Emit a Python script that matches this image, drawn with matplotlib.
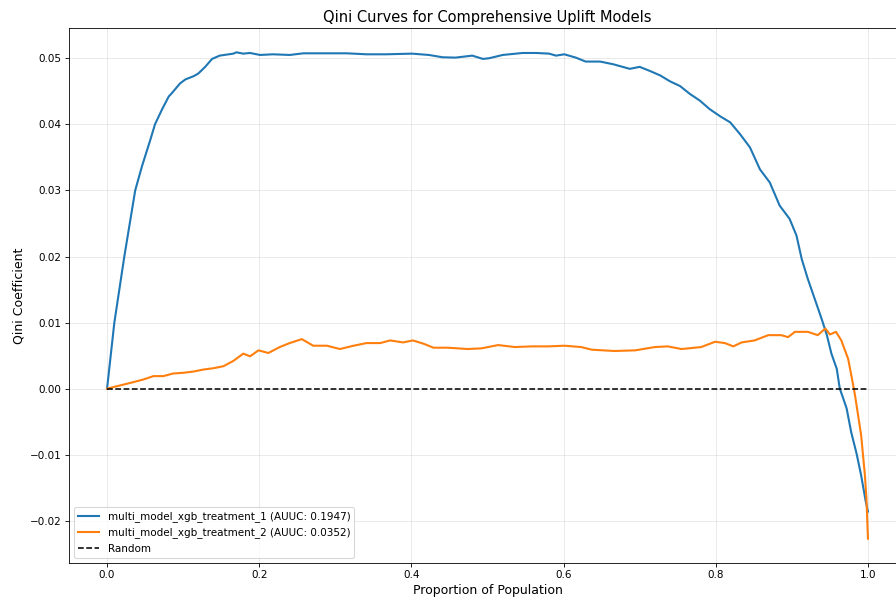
import matplotlib
matplotlib.use("Agg")
import matplotlib.pyplot as plt

# values
t1_x = [0.0, 0.0096, 0.0227, 0.037, 0.046, 0.057, 0.063, 0.072, 0.081, 0.085,
        0.096, 0.103, 0.114, 0.120, 0.129, 0.138, 0.148, 0.166, 0.170, 0.179,
        0.188, 0.201, 0.218, 0.240, 0.258, 0.284, 0.315, 0.341, 0.366, 0.401,
        0.423, 0.441, 0.458, 0.480, 0.494, 0.502, 0.520, 0.546, 0.564, 0.581,
        0.590, 0.601, 0.616, 0.629, 0.648, 0.665, 0.687, 0.700, 0.713, 0.727,
        0.740, 0.753, 0.766, 0.779, 0.792, 0.806, 0.819, 0.832, 0.845, 0.858,
        0.871, 0.884, 0.897, 0.906, 0.913, 0.921, 0.930, 0.939, 0.946, 0.952,
        0.959, 0.963, 0.967, 0.972, 0.978, 0.985, 0.991, 0.997, 1.0]
t1_y = [0.0, 0.0100, 0.0200, 0.0300, 0.0337, 0.0377, 0.0400, 0.0422, 0.0442, 0.0447,
        0.0462, 0.0468, 0.0473, 0.0477, 0.0487, 0.0499, 0.0504, 0.0507, 0.0509, 0.0507,
        0.0508, 0.0505, 0.0506, 0.0505, 0.05075, 0.05075, 0.05075, 0.0506, 0.0506, 0.0507,
        0.0505, 0.05015, 0.0501, 0.0504, 0.0499, 0.0500, 0.0505, 0.0508, 0.0508, 0.0507,
        0.0504, 0.0506, 0.0501, 0.0495, 0.0495, 0.0491, 0.0484, 0.0487, 0.0481, 0.0474,
        0.0465, 0.0458, 0.0446, 0.0436, 0.0423, 0.0412, 0.0403, 0.0385, 0.0365, 0.0332,
        0.0312, 0.0277, 0.0257, 0.0232, 0.0196, 0.0166, 0.0136, 0.0106, 0.0081, 0.0053,
        0.0030, 0.0000, -0.0013, -0.0030, -0.0066, -0.0098, -0.0131, -0.0170, -0.0186]

t2_x = [0.0, 0.0175, 0.035, 0.048, 0.061, 0.074, 0.087, 0.100, 0.114, 0.127,
        0.140, 0.153, 0.166, 0.179, 0.188, 0.199, 0.212, 0.227, 0.240, 0.256,
        0.271, 0.289, 0.306, 0.324, 0.341, 0.359, 0.372, 0.389, 0.402, 0.416,
        0.429, 0.448, 0.474, 0.492, 0.514, 0.536, 0.558, 0.580, 0.601, 0.623,
        0.637, 0.667, 0.694, 0.720, 0.737, 0.755, 0.781, 0.799, 0.812, 0.823,
        0.834, 0.851, 0.869, 0.886, 0.895, 0.904, 0.921, 0.934, 0.944, 0.950,
        0.958, 0.965, 0.974, 0.979, 0.983, 0.987, 0.991, 0.996, 0.998, 1.0]
t2_y = [0.0, 0.0005, 0.0010, 0.0014, 0.0019, 0.0019, 0.0023, 0.0024, 0.0026, 0.0029,
        0.0031, 0.0034, 0.0042, 0.0053, 0.0049, 0.0058, 0.0054, 0.0063, 0.0069, 0.0075,
        0.0065, 0.0065, 0.0060, 0.0065, 0.0069, 0.0069, 0.0073, 0.0070, 0.0073, 0.0068,
        0.0062, 0.0062, 0.0060, 0.0061, 0.0066, 0.0063, 0.0064, 0.0064, 0.0065, 0.0063,
        0.0059, 0.0057, 0.0058, 0.0063, 0.0064, 0.0060, 0.0063, 0.0071, 0.0069, 0.0064,
        0.0070, 0.0073, 0.0081, 0.0081, 0.0078, 0.0086, 0.0086, 0.0081, 0.0091, 0.0082,
        0.0086, 0.0073, 0.0045, 0.0015, -0.0010, -0.0040, -0.0070, -0.0131, -0.0166, -0.0227]

labels = ["multi_model_xgb_treatment_1 (AUUC: 0.1947)",
          "multi_model_xgb_treatment_2 (AUUC: 0.0352)"]


fig = plt.figure(figsize=(896 / 75, 597 / 75), dpi=75)
# the reference is cropped: right spine falls just outside the picture
ax = fig.add_axes([69 / 896, 34 / 597, 837 / 896, 535 / 597])

ax.plot(t1_x, t1_y, color="#1f77b4", linewidth=2, label=labels[0])
ax.plot(t2_x, t2_y, color="#ff7f0e", linewidth=2, label=labels[1])
ax.plot([0, 1], [0, 0], "k--", linewidth=1.5, label="Random")

ax.set_xlabel("Proportion of Population", fontsize=12)
ax.set_ylabel("Qini Coefficient", fontsize=12)
ax.set_title("Qini Curves for Comprehensive Uplift Models", fontsize=14)
ax.legend(loc="lower left")
ax.grid(True, alpha=0.3)

fig.savefig("out.png", dpi=75)
